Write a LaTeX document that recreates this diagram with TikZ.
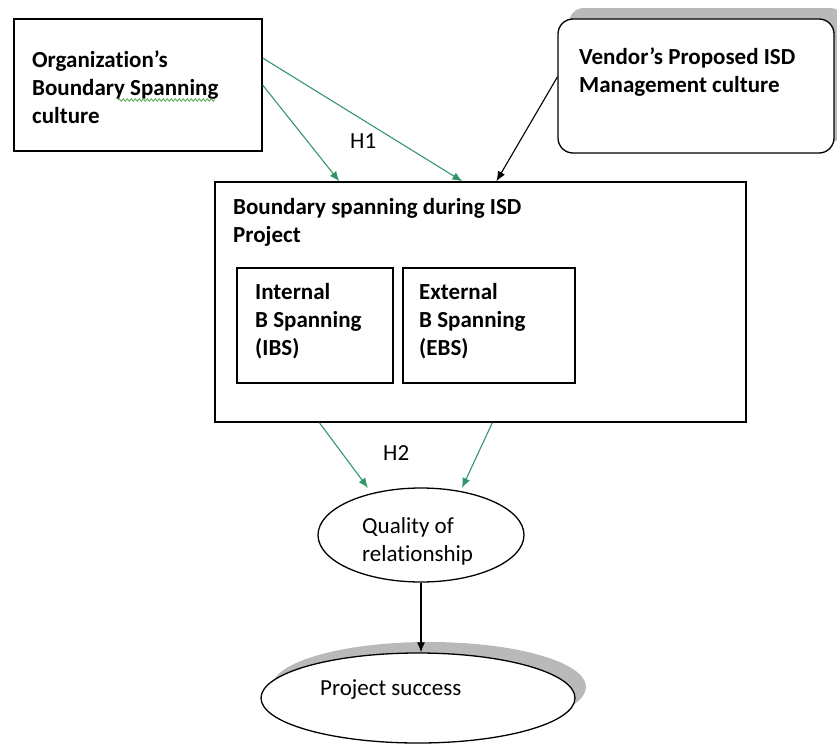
\documentclass[tikz,border=0pt]{standalone}
\usepackage{fontspec}
\setmainfont[Ligatures=NoCommon]{Carlito}
\usepackage{tikz}
\usetikzlibrary{arrows.meta,shapes.geometric,shadows,decorations.pathmorphing}
\definecolor{hgreen}{RGB}{52,150,104}
\definecolor{shade}{RGB}{185,185,185}
\definecolor{wavy}{RGB}{80,170,70}

\begin{document}
\begin{tikzpicture}[x=1pt, y=-1pt,
    box_node/.style={rectangle,draw,line width=1.3pt,fill=white,inner sep=0pt},
    ell_node/.style={ellipse,draw,line width=1.3pt,fill=white,inner sep=0pt},
    grey_shadow/.style={drop shadow={shadow xshift=11pt,shadow yshift=11pt,opacity=1,fill=shade}},
    txt_node/.style={anchor=base west,align=left,inner sep=0pt,font=\fontsize{23}{28}\selectfont},
    txt_bold/.style={txt_node,font=\fontsize{23}{28}\selectfont\bfseries},
    h_arrow/.style={draw=hgreen,line width=1.1pt,-{Latex[length=10pt,width=8pt]}},
    b_arrow/.style={draw=black,line width=1.1pt,-{Latex[length=10pt,width=8pt]}}]

    \useasboundingbox (0,0) rectangle (837,744);

    \node[box_node,minimum width=248pt,minimum height=132pt] (org) at (138,85) {};
    \node[box_node,grey_shadow,rounded corners=15pt,minimum width=276pt,minimum height=134pt] (vendor) at (696,86) {};
    \node[box_node,minimum width=531pt,minimum height=240pt] (big) at (480.5,302) {};
    \node[box_node,minimum width=156pt,minimum height=115pt] (ibs) at (315,325.5) {};
    \node[box_node,minimum width=172pt,minimum height=115pt] (ebs) at (489,325.5) {};
    \node[ell_node,minimum width=206pt,minimum height=94pt] (quality) at (421,535) {};
    \node[ell_node,grey_shadow,minimum width=314pt,minimum height=90pt] (success) at (418,698) {};

    % multi-line texts sit on the baseline of their last line
    \node[txt_bold] (org_txt) at (32,123) {Organization’s\\Boundary Spanning\\culture};
    \draw[wavy,line width=0.8pt,decorate,decoration={snake,amplitude=1.2pt,segment length=4pt}] (118,100) -- (215,100);
    \node[txt_bold] (vendor_txt) at (579,92) {Vendor’s Proposed ISD\\Management culture};
    \node[txt_bold] (big_txt) at (233,242) {Boundary spanning during ISD\\Project};
    \node[txt_bold] (ibs_txt) at (255,355) {Internal\\B Spanning\\(IBS)};
    \node[txt_bold] (ebs_txt) at (419,355) {External\\B Spanning\\(EBS)};
    \node[txt_node] (quality_txt) at (362,561) {Quality of\\relationship};
    \node[txt_node] (success_txt) at (320,695) {Project success};
    \node[txt_node] (h1) at (350,148) {H1};
    \node[txt_node] (h2) at (383,460) {H2};

    \draw[h_arrow] ([yshift=27pt]org.east) -- ([xshift=248pt]big.north west);
    \draw[h_arrow] (org.east) -- ([xshift=125pt]big.north west);
    \draw[b_arrow] ([yshift=9pt]vendor.west) -- ([xshift=282pt]big.north west);
    \draw[h_arrow] ([xshift=105pt]big.south west) -- ([shift={(-53,-47)}]quality.center);
    \draw[h_arrow] ([xshift=278pt]big.south west) -- ([shift={(41,-47)}]quality.center);
    \draw[b_arrow] (quality.south) -- (quality.south |- success.north);
\end{tikzpicture}
\end{document}
